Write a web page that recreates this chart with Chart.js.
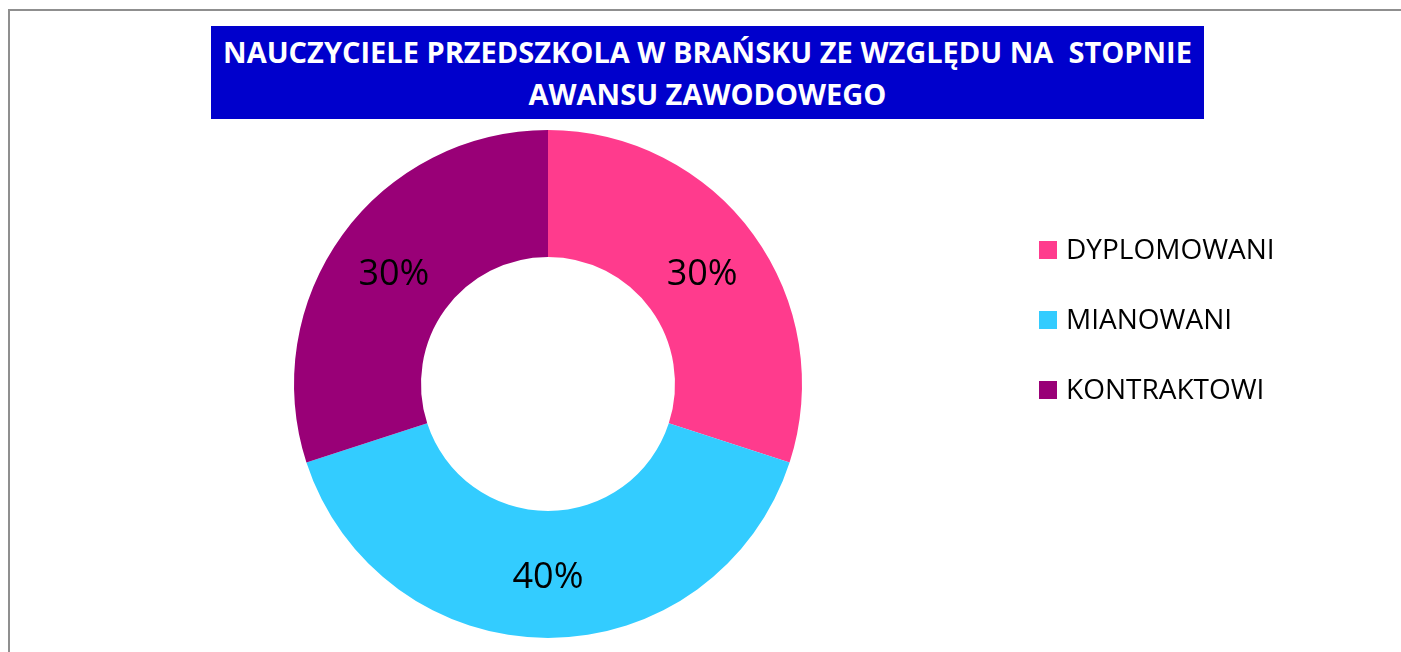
<!DOCTYPE html>
<html>
<head>
<meta charset="utf-8">
<script src="https://cdn.jsdelivr.net/npm/chart.js@4"></script>
<style>
    body { margin: 0; background: #fff; overflow: hidden; }
    #wrap { position: relative; width: 1401px; height: 652px; overflow: hidden; }
    #frame { position: absolute; left: 8px; top: 9px; width: 1500px; height: 1000px; border: 2px solid #8f8f8f; }
    #title {
        position: absolute; left: 211px; top: 26px; width: 993px; height: 93px;
        background: #0000cc; color: #fff; text-align: center; white-space: nowrap;
        font: bold 29px "Open Sans", sans-serif; line-height: 42px; padding-top: 5px; box-sizing: border-box;
    }
    canvas { position: absolute; left: 0; top: 0; }
</style>
</head>
<body>
<div id="wrap">
    <div id="frame"></div>
    <canvas id="donut" width="1401" height="652"></canvas>
    <div id="title">NAUCZYCIELE PRZEDSZKOLA W BRAŃSKU ZE WZGLĘDU NA &nbsp;STOPNIE<br>AWANSU ZAWODOWEGO</div>
</div>
<script>
// data
const categories = ['DYPLOMOWANI', 'MIANOWANI', 'KONTRAKTOWI'];
const shares = [30, 40, 30];
const sliceColors = ['#ff3b8d', '#33ccff', '#990077'];

// percentage labels on the slices + legend on the right
const labelsPlugin = {
    id: 'labelsPlugin',
    afterDraw(chart) {
        const ctx = chart.ctx;
        const meta = chart.getDatasetMeta(0);
        const data = chart.data.datasets[0].data;
        ctx.save();
        ctx.fillStyle = '#000';
        ctx.font = '36px "Open Sans", sans-serif';
        ctx.textAlign = 'center';
        ctx.textBaseline = 'middle';
        meta.data.forEach((arc, i) => {
            const pos = arc.tooltipPosition();
            ctx.fillText(data[i] + '%', pos.x, pos.y + 3);
        });

        // legend
        ctx.font = '28px "Open Sans", sans-serif';
        ctx.textAlign = 'left';
        chart.data.labels.forEach((label, i) => {
            const y = 250 + i * 70;
            ctx.fillStyle = chart.data.datasets[0].backgroundColor[i];
            ctx.fillRect(1039, y - 9, 18, 18);
            ctx.fillStyle = '#000';
            ctx.fillText(label, 1066, y + 1);
        });
        ctx.restore();
    }
};

const donutCtx = document.getElementById('donut');
new Chart(donutCtx, {
    type: 'doughnut',
    data: {
        labels: categories,
        datasets: [{
            data: shares,
            backgroundColor: sliceColors,
            borderWidth: 0
        }]
    },
    options: {
        responsive: false,
        animation: false,
        cutout: '50%',
        layout: {
            padding: { left: 294, right: 599, top: 130, bottom: 14 }
        },
        plugins: {
            legend: { display: false },
            tooltip: { enabled: false }
        }
    },
    plugins: [labelsPlugin]
});
</script>
</body>
</html>
